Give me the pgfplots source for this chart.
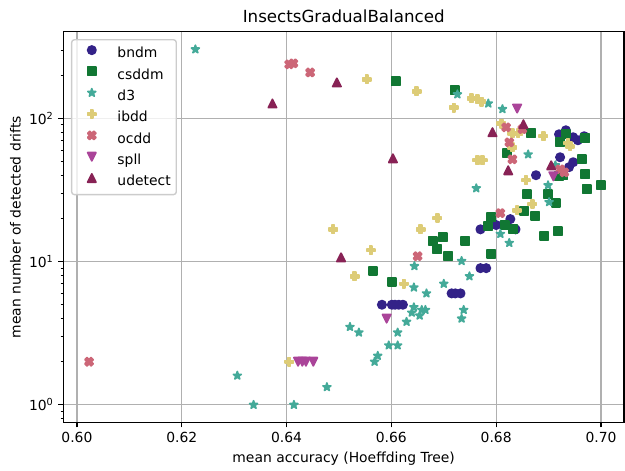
\documentclass[border=0pt]{standalone}
\usepackage{fontspec}
\setmainfont{DejaVu Sans}
\usepackage{pgfplots}
\pgfplotsset{compat=1.18}

\definecolor{cbndm}{HTML}{332288}
\definecolor{ccsddm}{HTML}{117733}
\definecolor{cdthree}{HTML}{44AA99}
\definecolor{cibdd}{HTML}{DDCC77}
\definecolor{cocdd}{HTML}{CC6677}
\definecolor{cspll}{HTML}{AA4499}
\definecolor{cudetect}{HTML}{882255}
\definecolor{gridgray}{HTML}{B0B0B0}
\definecolor{legendedge}{HTML}{CCCCCC}

% filled five-pointed star
\pgfdeclareplotmark{fstar}{%
  \pgfpathmoveto{\pgfpointpolar{90}{\pgfplotmarksize}}%
  \pgfpathlineto{\pgfpointpolar{126}{0.382\pgfplotmarksize}}%
  \pgfpathlineto{\pgfpointpolar{162}{\pgfplotmarksize}}%
  \pgfpathlineto{\pgfpointpolar{198}{0.382\pgfplotmarksize}}%
  \pgfpathlineto{\pgfpointpolar{234}{\pgfplotmarksize}}%
  \pgfpathlineto{\pgfpointpolar{270}{0.382\pgfplotmarksize}}%
  \pgfpathlineto{\pgfpointpolar{306}{\pgfplotmarksize}}%
  \pgfpathlineto{\pgfpointpolar{342}{0.382\pgfplotmarksize}}%
  \pgfpathlineto{\pgfpointpolar{18}{\pgfplotmarksize}}%
  \pgfpathlineto{\pgfpointpolar{54}{0.382\pgfplotmarksize}}%
  \pgfpathclose
  \pgfusepathqfillstroke}
% filled plus
\pgfdeclareplotmark{fplus}{%
  \pgfpathmoveto{\pgfpoint{-0.3333\pgfplotmarksize}{-\pgfplotmarksize}}%
  \pgfpathlineto{\pgfpoint{0.3333\pgfplotmarksize}{-\pgfplotmarksize}}%
  \pgfpathlineto{\pgfpoint{0.3333\pgfplotmarksize}{-0.3333\pgfplotmarksize}}%
  \pgfpathlineto{\pgfpoint{\pgfplotmarksize}{-0.3333\pgfplotmarksize}}%
  \pgfpathlineto{\pgfpoint{\pgfplotmarksize}{0.3333\pgfplotmarksize}}%
  \pgfpathlineto{\pgfpoint{0.3333\pgfplotmarksize}{0.3333\pgfplotmarksize}}%
  \pgfpathlineto{\pgfpoint{0.3333\pgfplotmarksize}{\pgfplotmarksize}}%
  \pgfpathlineto{\pgfpoint{-0.3333\pgfplotmarksize}{\pgfplotmarksize}}%
  \pgfpathlineto{\pgfpoint{-0.3333\pgfplotmarksize}{0.3333\pgfplotmarksize}}%
  \pgfpathlineto{\pgfpoint{-\pgfplotmarksize}{0.3333\pgfplotmarksize}}%
  \pgfpathlineto{\pgfpoint{-\pgfplotmarksize}{-0.3333\pgfplotmarksize}}%
  \pgfpathlineto{\pgfpoint{-0.3333\pgfplotmarksize}{-0.3333\pgfplotmarksize}}%
  \pgfpathclose
  \pgfusepathqfillstroke}
% filled x
\pgfdeclareplotmark{fcross}{%
  \pgfpathmoveto{\pgfpoint{-0.5\pgfplotmarksize}{-\pgfplotmarksize}}%
  \pgfpathlineto{\pgfpoint{0pt}{-0.5\pgfplotmarksize}}%
  \pgfpathlineto{\pgfpoint{0.5\pgfplotmarksize}{-\pgfplotmarksize}}%
  \pgfpathlineto{\pgfpoint{\pgfplotmarksize}{-0.5\pgfplotmarksize}}%
  \pgfpathlineto{\pgfpoint{0.5\pgfplotmarksize}{0pt}}%
  \pgfpathlineto{\pgfpoint{\pgfplotmarksize}{0.5\pgfplotmarksize}}%
  \pgfpathlineto{\pgfpoint{0.5\pgfplotmarksize}{\pgfplotmarksize}}%
  \pgfpathlineto{\pgfpoint{0pt}{0.5\pgfplotmarksize}}%
  \pgfpathlineto{\pgfpoint{-0.5\pgfplotmarksize}{\pgfplotmarksize}}%
  \pgfpathlineto{\pgfpoint{-\pgfplotmarksize}{0.5\pgfplotmarksize}}%
  \pgfpathlineto{\pgfpoint{-0.5\pgfplotmarksize}{0pt}}%
  \pgfpathlineto{\pgfpoint{-\pgfplotmarksize}{-0.5\pgfplotmarksize}}%
  \pgfpathclose
  \pgfusepathqfillstroke}
% triangles
\pgfdeclareplotmark{tup}{%
  \pgfpathmoveto{\pgfpoint{0pt}{\pgfplotmarksize}}%
  \pgfpathlineto{\pgfpoint{-\pgfplotmarksize}{-\pgfplotmarksize}}%
  \pgfpathlineto{\pgfpoint{\pgfplotmarksize}{-\pgfplotmarksize}}%
  \pgfpathclose
  \pgfusepathqfillstroke}
\pgfdeclareplotmark{tdown}{%
  \pgfpathmoveto{\pgfpoint{0pt}{-\pgfplotmarksize}}%
  \pgfpathlineto{\pgfpoint{-\pgfplotmarksize}{\pgfplotmarksize}}%
  \pgfpathlineto{\pgfpoint{\pgfplotmarksize}{\pgfplotmarksize}}%
  \pgfpathclose
  \pgfusepathqfillstroke}

\pgfplotsset{
  sc/.style 2 args={only marks, mark=#1, mark size=3pt,
    mark options={draw=#2, fill=#2, line width=1.2pt, line join=round,
      fill opacity=1, draw opacity=1}},
}

\begin{document}
\begin{tikzpicture}
\begin{axis}[
  scale only axis, width=403.7pt, height=281.5pt,
  ymode=log,
  xmin=0.5974, xmax=0.7044, ymin=0.7516, ymax=402.7,
  xtick={0.60,0.62,0.64,0.66,0.68,0.70},
  xticklabel={\pgfmathprintnumber[fixed,fixed zerofill,precision=2]{\tick}},
  /pgf/number format/assume math mode=true,
  ytick={1,10,100},
  yticklabels={10\textsuperscript{0},10\textsuperscript{1},10\textsuperscript{2}},
  minor ytick={0.8,0.9,2,3,4,5,6,7,8,9,20,30,40,50,60,70,80,90,200,300},
  tick pos=left, tick align=outside,
  major tick length=3.5pt, minor tick length=2pt,
  every tick/.style={black, line width=0.8pt},
  minor tick style={black, line width=0.6pt},
  axis line style={line width=0.8pt},
  grid=major, major grid style={gridgray, line width=0.8pt},
  ticklabel style={font=\fontsize{10}{12}\selectfont},
  title={InsectsGradualBalanced},
  title style={font=\fontsize{12}{14}\selectfont, at={(0.5,1)}, anchor=base, yshift=0.4pt},
  xlabel={mean accuracy (Hoeffding Tree)},
  ylabel={mean number of detected drifts},
  label style={font=\fontsize{10}{12}\selectfont},
  xlabel style={at={(axis description cs:0.5,0)}, anchor=base, yshift=-28.5pt},
  ylabel style={at={(axis description cs:-0.0763,0.5)}, anchor=base},
  legend cell align=left,
  legend image code/.code={%
    \path (0pt,0pt) (28pt,6pt);
    \draw[mark repeat=2,mark phase=2,#1] plot coordinates {(0pt,3pt) (10pt,3pt) (20pt,3pt)};},
  legend style={at={(0,1)}, anchor=north west, xshift=5.5pt, yshift=-5.3pt,
    draw=legendedge, line width=1pt, fill=white, fill opacity=0.8, text opacity=1,
    rounded corners=2pt, inner xsep=4pt, inner ysep=4pt,
    font=\fontsize{10}{12}\selectfont, row sep=3.9pt,
    nodes={inner sep=0pt, text height=7.6pt, text depth=2.3pt}},
]
\coordinate (bl) at (rel axis cs:0,0);
\coordinate (tr) at (rel axis cs:1,1);

% bndm
\addplot[sc={*}{cbndm}] coordinates {
(0.6582,5) (0.6601,5) (0.6607,5) (0.6614,5) (0.6622,5)
(0.6715,6) (0.6722,6) (0.6732,6)
(0.6770,9) (0.6781,9)
(0.6770,16.8) (0.6800,18) (0.6827,19.8) (0.6837,16.8)
(0.6876,40.1)
(0.6920,77.4) (0.6933,82.5) (0.6947,73.8) (0.6956,70.3) (0.6968,75)
(0.6922,53.5) (0.6947,49.4) (0.6939,45.6)
};
\addlegendentry{bndm}

% csddm
\addplot[sc={square*}{ccsddm}] coordinates {
(0.6608,181) (0.6721,157)
(0.6565,8.6) (0.6601,7.2)
(0.6679,13.9) (0.6698,14.8) (0.6688,12.2) (0.6709,10.9)
(0.6741,13.9) (0.6791,11.3) (0.6785,17.7) (0.6816,18) (0.6833,16.8)
(0.6791,20.4) (0.6854,22.5) (0.6875,20.8) (0.6859,29.5)
(0.6821,57) (0.6867,78.6)
(0.6892,15.1) (0.6918,16.3) (0.6899,29.5) (0.6914,25.6)
(0.6920,39.4) (0.6928,40.1)
(0.6933,77.4) (0.6922,68) (0.6970,72.6) (0.6964,51.8)
(0.6970,40.7) (0.6973,32) (0.7000,34.1)
};
\addlegendentry{csddm}

% d3
\addplot[sc={fstar}{cdthree}] coordinates {
(0.6226,303) (0.6726,147) (0.6785,127) (0.6812,116)
(0.6861,56) (0.6762,32.5) (0.6899,34.1) (0.6901,26) (0.6913,47)
(0.6808,15.6) (0.6825,13.5) (0.6734,10.1) (0.6749,7.9) (0.6700,7.0)
(0.6644,9.3) (0.6643,6.6) (0.6667,6.0)
(0.6643,4.8) (0.6658,4.6) (0.6665,4.6) (0.6639,4.4) (0.6654,4.2)
(0.6738,4.6) (0.6734,4.0) (0.6629,3.8)
(0.6521,3.5) (0.6538,3.2) (0.6612,3.2)
(0.6595,2.6) (0.6612,2.6) (0.6574,2.2) (0.6568,2.0)
(0.6477,1.33) (0.6306,1.6) (0.6337,1.0) (0.6414,1.0)
};
\addlegendentry{d3}

% ibdd
\addplot[sc={fplus}{cibdd}] coordinates {
(0.6553,187) (0.6648,154) (0.6719,119)
(0.6753,138) (0.6764,136) (0.6772,131)
(0.6810,92) (0.6831,78.6) (0.6842,78.6) (0.6890,75)
(0.6831,62.8) (0.6937,67) (0.6941,63.8)
(0.6764,51) (0.6774,51)
(0.6857,37) (0.6869,25.2) (0.6840,22.8)
(0.6688,20.1) (0.6656,16.8) (0.6489,16.8)
(0.6561,12) (0.6530,7.9) (0.6624,7.0) (0.6405,2.0)
};
\addlegendentry{ibdd}

% ocdd
\addplot[sc={fcross}{cocdd}] coordinates {
(0.6023,2.0) (0.6405,238) (0.6413,242) (0.6445,209)
(0.6819,86.5) (0.6850,84) (0.6825,68) (0.6831,51.8)
(0.6808,21.8) (0.6650,10.9)
(0.6922,44.1) (0.6930,42)
};
\addlegendentry{ocdd}

% spll
\addplot[sc={tdown}{cspll}] coordinates {
(0.6840,117) (0.6591,4.0)
(0.6422,2.0) (0.6430,2.0) (0.6437,2.0) (0.6451,2.0)
(0.6909,39.4)
};
\addlegendentry{spll}

% udetect
\addplot[sc={tup}{cudetect}] coordinates {
(0.6373,127) (0.6496,178) (0.6603,52.6) (0.6504,10.7)
(0.6793,80) (0.6852,91) (0.6823,43.4) (0.6905,47)
};
\addlegendentry{udetect}
\end{axis}
\pgfresetboundingbox
\path ([shift={(-45.6pt,-34.8pt)}]bl) rectangle ([shift={(0.7pt,22.8pt)}]tr);
\end{tikzpicture}
\end{document}
